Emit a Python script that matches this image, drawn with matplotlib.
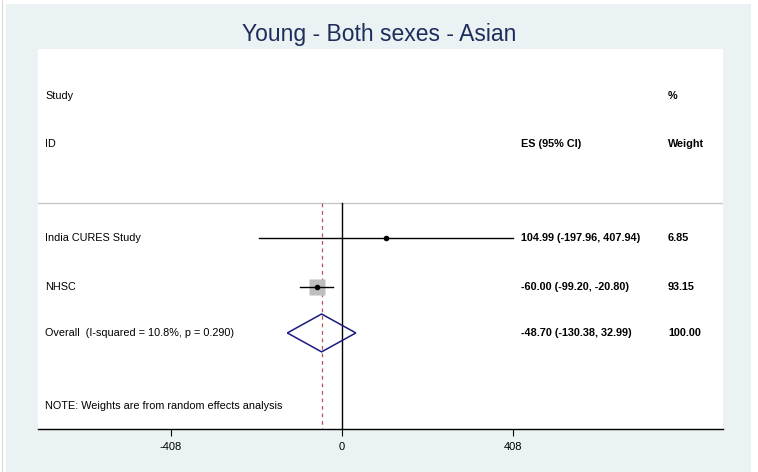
import matplotlib
matplotlib.use('Agg')
import matplotlib.pyplot as plt
import matplotlib.transforms as mtransforms
from matplotlib.patches import Rectangle, Polygon

plt.rcParams['font.family'] = ['Liberation Sans', 'DejaVu Sans']

# ==========================================
# DATA
# ==========================================
title = "Young - Both sexes - Asian"
studies = ["India CURES Study", "NHSC"]
es = [104.99, -60.00]
ci_low = [-197.96, -99.20]
ci_high = [407.94, -20.80]
weights = [6.85, 93.15]
es_labels = ["104.99 (-197.96, 407.94)", "-60.00 (-99.20, -20.80)"]
weight_labels = ["6.85", "93.15"]

overall_label = "Overall  (I-squared = 10.8%, p = 0.290)"
overall_es = -48.70
overall_low = -130.38
overall_high = 32.99
overall_es_label = "-48.70 (-130.38, 32.99)"
overall_weight_label = "100.00"

note = "NOTE: Weights are from random effects analysis"
xticks = [-408, 0, 408]

# ==========================================
# FIGURE
# ==========================================
W, H = 758, 472
fig = plt.figure(figsize=(W / 100, H / 100), dpi=100)
fig.patch.set_facecolor('white')

bg = '#EAF2F3'
fig.add_artist(Rectangle((6 / W, 0), (751 - 6) / W, 1 - 4 / H,
                         transform=fig.transFigure, facecolor=bg,
                         edgecolor='none', zorder=-10))
fig.add_artist(plt.Line2D([1.5 / W, 1.5 / W], [0, 1], transform=fig.transFigure,
                          color='#D8D8D8', lw=0.8, zorder=-10))

left, right, top, bottom = 38, 723, 49, 429
ax = fig.add_axes([left / W, 1 - bottom / H, (right - left) / W, (bottom - top) / H])
ax.set_facecolor('white')

# x range so that 0 sits at px 342 and 408 at px 513
px_per_unit = (513 - 342) / 408
ax.set_xlim((left - 342) / px_per_unit, (right - 342) / px_per_unit)
ax.set_ylim(8.03, 0)

for s in ['top', 'right', 'left']:
    ax.spines[s].set_visible(False)
ax.spines['bottom'].set_color('black')
ax.spines['bottom'].set_linewidth(1.0)
ax.set_yticks([])
ax.set_xticks(xticks)
ax.set_xticklabels([str(t) for t in xticks], fontsize=8)
ax.tick_params(axis='x', length=5, width=0.8, pad=4, colors='black')

text_tr = mtransforms.blended_transform_factory(ax.transAxes, ax.transData)
fs = 7.8
col_study = 7 / (right - left)
col_es = (521 - left) / (right - left)
col_wt = (668 - left) / (right - left)

# header
ax.text(col_study, 1.0, "Study", transform=text_tr, fontsize=fs, va='center')
ax.text(col_study, 2.0, "ID", transform=text_tr, fontsize=fs, va='center')
ax.text(col_es, 2.0, "ES (95% CI)", transform=text_tr, fontsize=fs, va='center', fontweight='bold')
ax.text(col_wt, 1.0, "%", transform=text_tr, fontsize=fs, va='center', fontweight='bold')
ax.text(col_wt, 2.0, "Weight", transform=text_tr, fontsize=fs, va='center', fontweight='bold')

ax.axhline(3.26, color='#C8C8C8', lw=1.0)

# reference lines
ax.plot([0, 0], [3.26, 8.03], color='black', lw=1.0, zorder=2)
ax.plot([overall_es, overall_es], [3.26, 8.03], color='#B5555A', lw=0.9,
        ls=(0, (3, 3)), zorder=2)

# studies
box_max = 11.5
rows = [4.0, 5.02]
for i, y in enumerate(rows):
    ms = box_max * (weights[i] / max(weights)) ** 0.5
    ax.plot(es[i], y, marker='s', ms=ms, color='#BEBEBE', mec='none', zorder=3)
    ax.plot([ci_low[i], ci_high[i]], [y, y], color='black', lw=1.0, zorder=4)
    ax.plot(es[i], y, marker='o', ms=3, color='black', zorder=5)
    ax.text(col_study, y, studies[i], transform=text_tr, fontsize=fs, va='center')
    ax.text(col_es, y, es_labels[i], transform=text_tr, fontsize=fs, va='center', fontweight='bold')
    ax.text(col_wt, y, weight_labels[i], transform=text_tr, fontsize=fs, va='center', fontweight='bold')

# overall diamond
yo = 6.0
dh = 0.4
diamond = Polygon([[overall_low, yo], [overall_es, yo - dh], [overall_high, yo],
                   [overall_es, yo + dh]], closed=True, facecolor='none',
                  edgecolor='#1A1A80', lw=1.1, zorder=4)
ax.add_patch(diamond)
ax.text(col_study, yo, overall_label, transform=text_tr, fontsize=fs, va='center')
ax.text(col_es, yo, overall_es_label, transform=text_tr, fontsize=fs, va='center', fontweight='bold')
ax.text(col_wt, yo, overall_weight_label, transform=text_tr, fontsize=fs, va='center', fontweight='bold')

ax.text(col_study, 7.55, note, transform=text_tr, fontsize=fs, va='center')

fig.text(0.5, 1 - 34 / H, title, ha='center', va='center', fontsize=16.5, color='#1E2D5C')

fig.savefig('out.png', dpi=100, facecolor=fig.get_facecolor())
